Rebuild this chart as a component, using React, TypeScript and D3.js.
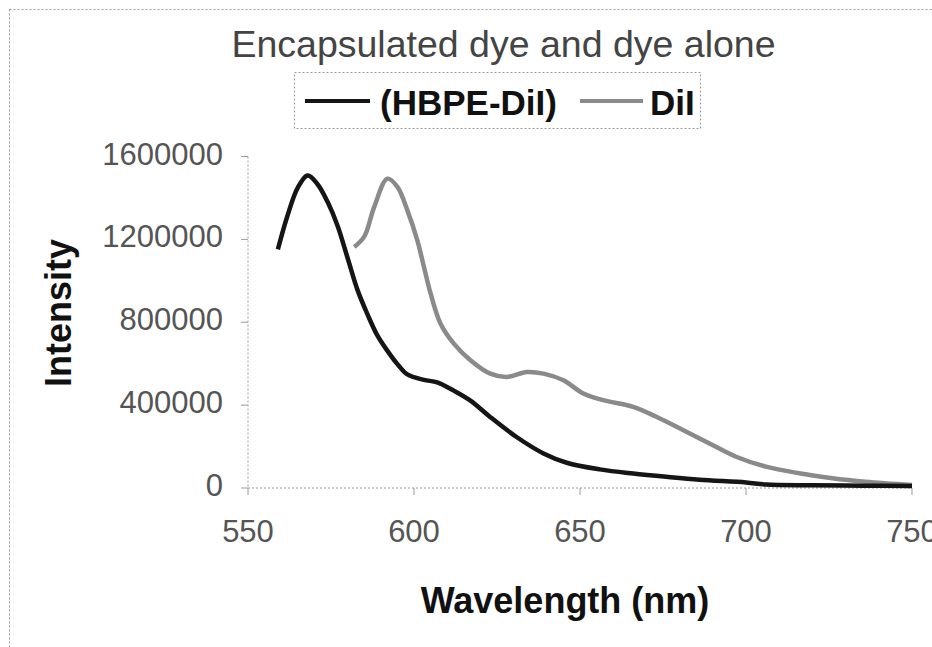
import React from "react";
import * as d3 from "d3";

// ─── Data ────────────────────────────────────────────────────────────────────
const hbpeWavelength = [
  559, 562, 565, 568, 571, 574, 577, 580, 583, 586, 589, 592, 595, 598, 603,
  607, 612, 617, 623, 631, 639, 646, 656, 666, 676, 686, 700, 706, 720, 735, 750,
];
const hbpeIntensity = [
  1152000, 1320000, 1450000, 1508000, 1465000, 1380000, 1265000, 1110000,
  955000, 838000, 735000, 662000, 598000, 548000, 522000, 510000, 470000,
  422000, 342000, 245000, 167000, 122000, 90000, 70000, 54000, 40000, 27000,
  17000, 13000, 11000, 10000,
];

const diiWavelength = [
  582, 585, 588, 592, 595, 598, 601, 603, 605, 608, 612, 617, 623, 628, 634,
  639, 645, 651, 657, 666, 673, 681, 689, 697, 706, 716, 726, 736, 750,
];
const diiIntensity = [
  1163000, 1213000, 1356000, 1493000, 1453000, 1340000, 1195000, 1067000,
  939000, 793000, 697000, 617000, 552000, 536000, 560000, 552000, 520000,
  456000, 424000, 392000, 344000, 280000, 215000, 151000, 103000, 71000,
  47000, 30000, 14000,
];

const xTicks = [550, 600, 650, 700, 750];
const yTicks = [0, 400000, 800000, 1200000, 1600000];

const seriesNames = ["(HBPE-DiI)", "DiI"];
const chartTitle = "Encapsulated dye and dye alone";
const xTitle = "Wavelength (nm)";
const yTitle = "Intensity";

// ─── Design tokens ───────────────────────────────────────────────────────────
const W = 932;
const H = 647;
const PLOT = { left: 248, right: 912, top: 156.5, bottom: 488 };
const HBPE_STROKE = "#151515";
const DII_STROKE = "#8a8a8a";
const AXIS_STROKE = "#9a9a9a";
const TICK_TEXT = "#555";
const FONT = "'Liberation Sans', Arial, sans-serif";

type Pt = [number, number];

export default function App() {
  const x = d3.scaleLinear().domain([550, 750]).range([PLOT.left, PLOT.right]);
  const y = d3.scaleLinear().domain([0, 1600000]).range([PLOT.bottom, PLOT.top]);

  const line = d3
    .line<Pt>()
    .x((d) => x(d[0]))
    .y((d) => y(d[1]))
    .curve(d3.curveCatmullRom.alpha(0.5));

  const hbpe: Pt[] = hbpeWavelength.map((w, i) => [w, hbpeIntensity[i]]);
  const dii: Pt[] = diiWavelength.map((w, i) => [w, diiIntensity[i]]);

  const legend = [
    { name: seriesNames[0], color: HBPE_STROKE, x0: 305, x1: 370, tx: 380 },
    { name: seriesNames[1], color: DII_STROKE, x0: 580, x1: 643, tx: 650 },
  ];

  return (
    <svg
      width={W}
      height={H}
      style={{ position: "absolute", left: 0, top: 0, background: "#fff", fontFamily: FONT }}
    >
      {/* chart area border (right/bottom fall outside the picture) */}
      <rect
        x={9.5}
        y={9.5}
        width={W + 20}
        height={H + 20}
        fill="none"
        stroke={AXIS_STROKE}
        strokeDasharray="2,2"
      />

      <text x={503.5} y={57} textAnchor="middle" fontSize={37.5} fill="#444">
        {chartTitle}
      </text>

      {/* legend */}
      <rect
        x={294.5}
        y={72.5}
        width={406}
        height={56}
        fill="none"
        stroke={AXIS_STROKE}
        strokeDasharray="2,2"
      />
      {legend.map((l) => (
        <g key={l.name}>
          <line x1={l.x0} x2={l.x1} y1={101} y2={101} stroke={l.color} strokeWidth={4} />
          <text x={l.tx} y={115} fontSize={35} fontWeight="bold" fill="#111">
            {l.name}
          </text>
        </g>
      ))}

      {/* y axis */}
      <line
        x1={PLOT.left}
        x2={PLOT.left}
        y1={y(1600000)}
        y2={PLOT.bottom}
        stroke={AXIS_STROKE}
        strokeDasharray="2,2"
      />
      {yTicks.map((t) => (
        <g key={t}>
          <line x1={PLOT.left - 7} x2={PLOT.left} y1={y(t)} y2={y(t)} stroke={AXIS_STROKE} />
          <text x={223} y={y(t) + 8} textAnchor="end" fontSize={31} fill={TICK_TEXT}>
            {t}
          </text>
        </g>
      ))}

      {/* x axis */}
      <line
        x1={PLOT.left}
        x2={PLOT.right}
        y1={PLOT.bottom}
        y2={PLOT.bottom}
        stroke={AXIS_STROKE}
        strokeDasharray="2,2"
      />
      {xTicks.map((t) => (
        <g key={t}>
          <line x1={x(t)} x2={x(t)} y1={PLOT.bottom} y2={PLOT.bottom + 7} stroke={AXIS_STROKE} />
          <text x={x(t)} y={542} textAnchor="middle" fontSize={31} fill={TICK_TEXT}>
            {t}
          </text>
        </g>
      ))}

      {/* axis titles */}
      <text
        transform="translate(71,313) rotate(-90)"
        textAnchor="middle"
        fontSize={36}
        fontWeight="bold"
        fill="#111"
      >
        {yTitle}
      </text>
      <text x={565} y={613} textAnchor="middle" fontSize={36} fontWeight="bold" fill="#111">
        {xTitle}
      </text>

      {/* series */}
      <path d={line(dii) ?? ""} fill="none" stroke={DII_STROKE} strokeWidth={4.5} />
      <path d={line(hbpe) ?? ""} fill="none" stroke={HBPE_STROKE} strokeWidth={4.5} />
    </svg>
  );
}
